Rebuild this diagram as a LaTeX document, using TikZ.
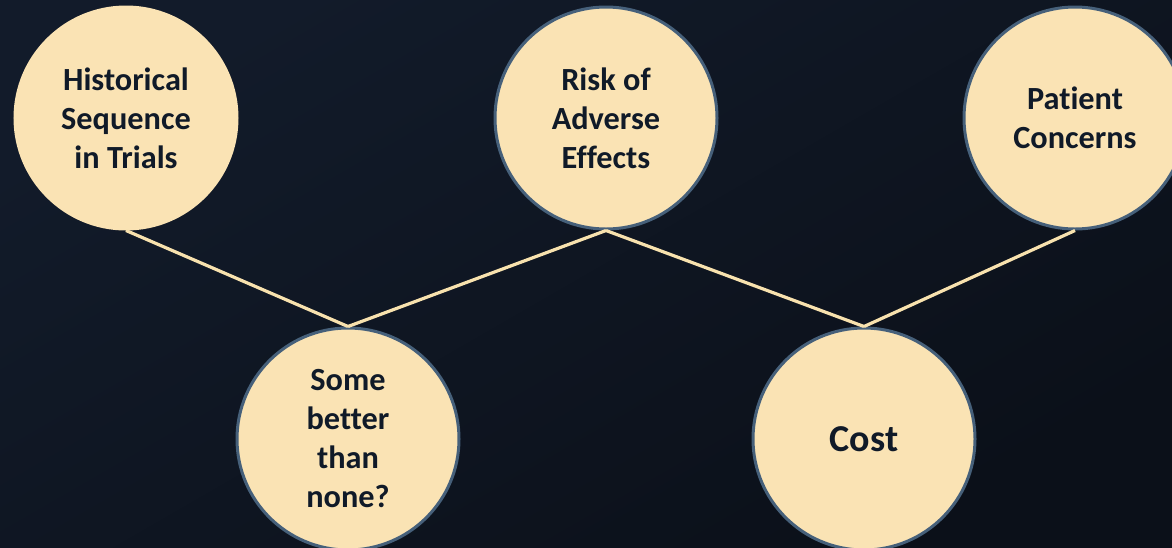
\documentclass[tikz,border=0pt]{standalone}
\usepackage{fontspec}
\setmainfont{Carlito}[RawFeature=-liga]
\definecolor{bgA}{HTML}{121B2A}
\definecolor{bgB}{HTML}{0B1019}
\definecolor{disc}{HTML}{FAE3B4}
\definecolor{rim}{HTML}{46607A}
\definecolor{ink}{HTML}{101A28}
\definecolor{wire}{HTML}{F8E2AE}
\begin{document}
\begin{tikzpicture}[x=1pt,y=-1pt,
  bubble/.style={circle,fill=disc,draw=rim,line width=3pt,minimum size=222pt,inner sep=0pt,
    font=\fontsize{32.3}{39}\selectfont\bfseries,text=ink,align=center},
  plain/.style={bubble,draw=disc},
  wireline/.style={draw=wire,line width=3.2pt}]
\shade[top color=bgA,bottom color=bgB,shading angle=30] (0,0) rectangle (1172,547);
\useasboundingbox (0,0) rectangle (1172,547);
\node[plain] (hist) at (126,118) {Historical\\Sequence\\in Trials};
\node[bubble] (risk) at (606,118) {Risk of\\Adverse\\Effects};
\node[bubble] (pat) at (1075,118) {Patient\\Concerns};
\node[bubble] (some) at (348,439) {Some\\better\\than\\none?};
\node[bubble,font=\fontsize{38}{46}\selectfont\bfseries] (cost) at (864,439) {Cost};
\draw[wireline] (hist.south) -- (some.north);
\draw[wireline] (risk.south) -- (some.north);
\draw[wireline] (risk.south) -- (cost.north);
\draw[wireline] (pat.south) -- (cost.north);
\end{tikzpicture}
\end{document}
